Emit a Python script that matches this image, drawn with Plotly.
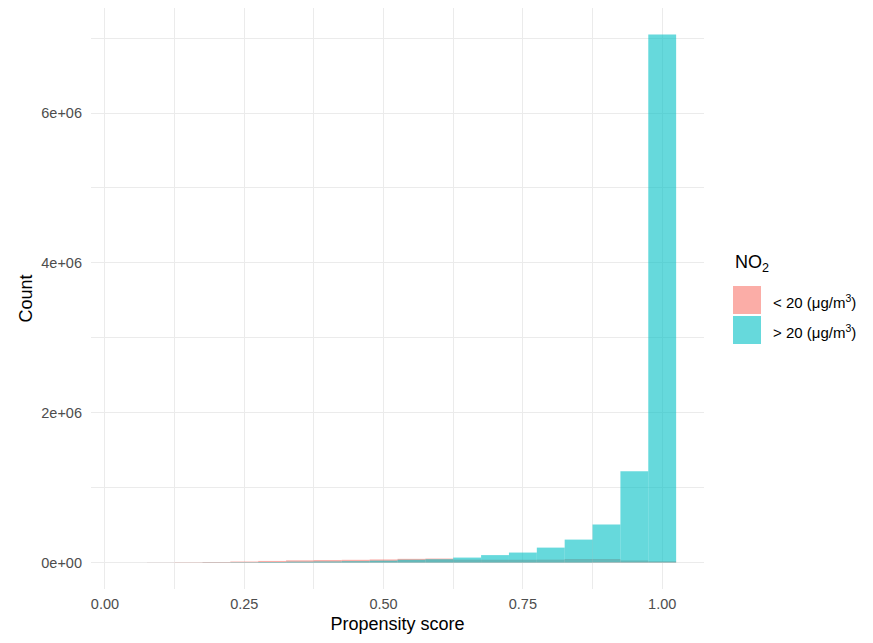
import plotly.graph_objects as go

# Histogram bins (centers, width 0.05)
bin_centers = [0.05, 0.10, 0.15, 0.20, 0.25, 0.30, 0.35, 0.40, 0.45, 0.50,
               0.55, 0.60, 0.65, 0.70, 0.75, 0.80, 0.85, 0.90, 0.95, 1.00]
count_low = [0, 1500, 4000, 8000, 14000, 22000, 30000, 34000, 37000, 42000,
             50000, 54000, 40000, 38000, 38000, 40000, 48000, 48000, 28000, 18000]
count_high = [0, 500, 1000, 3000, 5000, 8000, 12000, 15000, 19000, 26000,
              38000, 45000, 67000, 100000, 134000, 200000, 307000, 510000, 1220000, 7050000]
series_names = ["&lt; 20 (μg/m<sup>3</sup>)", "&gt; 20 (μg/m<sup>3</sup>)"]
series_colors = ["rgba(248,118,109,0.6)", "rgba(0,191,196,0.6)"]
x_ticks = [0.0, 0.25, 0.5, 0.75, 1.0]
x_ticklabels = ["0.00", "0.25", "0.50", "0.75", "1.00"]
y_ticks = [0, 2e6, 4e6, 6e6]
y_ticklabels = ["0e+00", "2e+06", "4e+06", "6e+06"]

FONT = "Liberation Sans, Arial, Helvetica, sans-serif"

# page body has an 8px default margin; compensate
W, H = 865, 635
ML, MT = 83, 0
PW, PH = 613, 581
MR = W - ML - PW
MB = H - MT - PH
OFF = 8  # page offset


def fx(px):
    return (px - OFF - ML) / PW


def fy(py):
    return (MT + PH - (py - OFF)) / PH


fig = go.Figure()
for vals, name, col in zip([count_low, count_high], series_names, series_colors):
    fig.add_trace(go.Bar(x=bin_centers, y=vals, width=0.05, name=name,
                         marker=dict(color=col, line=dict(width=0)),
                         showlegend=False))

fig.update_layout(
    width=W, height=H,
    barmode="overlay",
    plot_bgcolor="white", paper_bgcolor="white",
    margin=dict(l=ML, r=MR, t=MT, b=MB, autoexpand=False),
    font=dict(family=FONT, color="#4D4D4D", size=14),
    xaxis=dict(range=[-0.025, 1.075], tickvals=x_ticks, ticktext=x_ticklabels,
               showgrid=True, gridcolor="#EBEBEB", gridwidth=1.1,
               zeroline=False, showline=False, ticks="",
               ticklabelstandoff=4,
               tickfont=dict(size=14.5, color="#4D4D4D"),
               minor=dict(tickvals=[0.125, 0.375, 0.625, 0.875], showgrid=True,
                          gridcolor="#EBEBEB", gridwidth=0.6),
               title=dict(text="Propensity score", standoff=6,
                          font=dict(size=18, color="black"))),
    yaxis=dict(range=[-352500, 7402500], tickvals=y_ticks, ticktext=y_ticklabels,
               showgrid=True, gridcolor="#EBEBEB", gridwidth=1.1,
               zeroline=False, showline=False, ticks="",
               ticklabelstandoff=8,
               tickfont=dict(size=14.5, color="#4D4D4D"),
               minor=dict(tickvals=[1e6, 3e6, 5e6, 7e6], showgrid=True,
                          gridcolor="#EBEBEB", gridwidth=0.6),
               title=dict(text="Count", standoff=3,
                          font=dict(size=18, color="black"))),
)

# Custom ggplot-like legend
fig.add_annotation(text="NO<sub>2</sub>", xref="paper", yref="paper",
                   x=fx(733), y=fy(263),
                   xanchor="left", yanchor="middle", showarrow=False,
                   font=dict(size=18, color="black", family=FONT))
key_tops = [286, 316]
for i, (name, col) in enumerate(zip(series_names, series_colors)):
    top = key_tops[i]
    bot = top + 28
    fig.add_shape(type="rect", xref="paper", yref="paper",
                  x0=fx(733), x1=fx(761), y0=fy(bot), y1=fy(top),
                  fillcolor=col, line=dict(width=0))
    fig.add_annotation(text=name, xref="paper", yref="paper",
                       x=fx(771), y=fy(top + 15),
                       xanchor="left", yanchor="middle", showarrow=False,
                       font=dict(size=15, color="black", family=FONT))

fig.write_html("out.html")
